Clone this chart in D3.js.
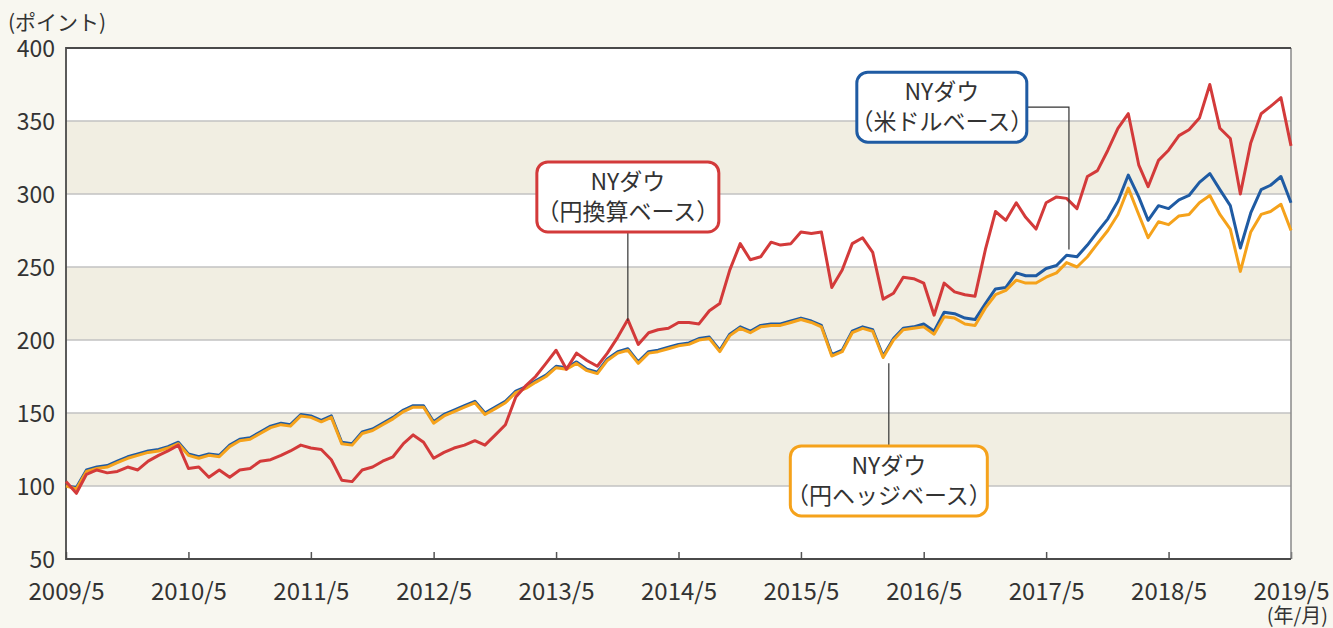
<!DOCTYPE html>
<html>
<head>
<meta charset="utf-8">
<script src="https://cdn.jsdelivr.net/npm/d3@7"></script>
<style>
  body { margin: 0; background: #f8f7f0; }
  svg { display: block; font-family: "Noto Sans CJK JP", "Noto Sans", sans-serif; }
</style>
</head>
<body>
<script>
// monthly points, 2009/5 .. 2019/5
const startMonth = new Date(2009, 4, 1);
const endMonth = new Date(2019, 4, 1);

const yTicks = [50, 100, 150, 200, 250, 300, 350, 400];
const bands = [[100, 150], [200, 250], [300, 350]];
const xTickYears = [2009, 2010, 2011, 2012, 2013, 2014, 2015, 2016, 2017, 2018, 2019];

// NYダウ（米ドルベース）
const usdValues = [
  100, 99, 111, 113, 114, 117, 120, 122, 124, 125, 127, 130,
  122, 120, 122, 121, 128, 132, 133, 137, 141, 143, 142, 149,
  148, 145, 148, 130, 129, 137, 139, 143, 147, 152, 155, 155,
  144, 149, 152, 155, 158, 150, 154, 158, 165, 168, 172, 176,
  182, 181, 185, 180, 178, 187, 192, 194, 185, 192, 193, 195,
  197, 198, 201, 202, 193, 204, 209, 206, 210, 211, 211, 213,
  215, 213, 210, 190, 193, 206, 209, 207, 189, 201, 208, 209,
  211, 206, 219, 218, 215, 214, 225, 235, 236, 246, 244, 244,
  249, 251, 258, 257, 265, 274, 283, 295, 313, 298, 282, 292,
  290, 296, 299, 308, 314, 303, 292, 263, 287, 303, 306, 312,
  294
];

// NYダウ（円換算ベース）
const jpyValues = [
  103, 95, 108, 111, 109, 110, 113, 111, 117, 121, 124, 128,
  112, 113, 106, 111, 106, 111, 112, 117, 118, 121, 124, 128,
  126, 125, 118, 104, 103, 111, 113, 117, 120, 129, 135, 130,
  119, 123, 126, 128, 131, 128, 135, 142, 161, 169, 175, 184,
  193, 180, 191, 186, 182, 191, 202, 214, 197, 205, 207, 208,
  212, 212, 211, 220, 225, 248, 266, 255, 257, 267, 265, 266,
  274, 273, 274, 236, 248, 266, 270, 260, 228, 232, 243, 242,
  239, 217, 239, 233, 231, 230, 262, 288, 282, 294, 284, 276,
  294, 298, 297, 290, 312, 316, 330, 345, 355, 320, 305, 323,
  330, 340, 344, 352, 375, 345, 338, 300, 335, 355, 360, 366,
  333
];

// NYダウ（円ヘッジベース）
const hedgeValues = [
  100, 98, 110, 112, 113, 116, 119, 121, 123, 124, 126, 129,
  121, 119, 121, 120, 127, 131, 132, 136, 140, 142, 141, 148,
  147, 144, 147, 129, 128, 136, 138, 142, 146, 151, 154, 154,
  143, 148, 151, 154, 157, 149, 153, 157, 164, 167, 171, 175,
  181, 180, 184, 179, 177, 186, 191, 193, 184, 191, 192, 194,
  196, 197, 200, 201, 192, 203, 208, 205, 209, 210, 210, 212,
  214, 212, 209, 189, 192, 205, 208, 206, 188, 200, 207, 208,
  209, 204, 216, 215, 211, 210, 222, 231, 234, 241, 239, 239,
  243, 246, 253, 250, 257, 266, 275, 286, 304, 286, 270, 281,
  279, 285, 286, 294, 299, 286, 276, 247, 274, 286, 288, 293,
  275
];

const series = [
  { name: "usd", values: usdValues, color: "#1f5ba3" },
  { name: "hedge", values: hedgeValues, color: "#f5a21b" },
  { name: "jpy", values: jpyValues, color: "#d33a3a" }
];

// label boxes: center in data coords, anchor = point the leader line hits
const notes = [
  { lines: ["NYダウ", "（円換算ベース）"], color: "#d33a3a", w: 182, h: 70,
    center: ["2013-12-01", 298], anchor: ["2013-12-01", 213], kind: "down" },
  { lines: ["NYダウ", "（米ドルベース）"], color: "#1f5ba3", w: 170, h: 70,
    center: ["2016-06-24", 359.5], anchor: ["2017-07-08", 262], kind: "elbow" },
  { lines: ["NYダウ", "（円ヘッジベース）"], color: "#f5a21b", w: 197, h: 70,
    center: ["2016-01-18", 103.5], anchor: ["2016-01-18", 184], kind: "up" }
];

const W = 1333, H = 628;
const margin = { top: 48, right: 42, bottom: 69, left: 66 };

const months = d3.timeMonth.range(startMonth, d3.timeMonth.offset(endMonth, 1));

const svg = d3.select("body").append("svg")
  .attr("width", W)
  .attr("height", H);

const x = d3.scaleTime()
  .domain([startMonth, endMonth])
  .range([margin.left, W - margin.right]);

const y = d3.scaleLinear()
  .domain([50, 400])
  .range([H - margin.bottom, margin.top]);

// plot background + bands
svg.append("rect")
  .attr("x", x.range()[0]).attr("y", y(400))
  .attr("width", x.range()[1] - x.range()[0])
  .attr("height", y(50) - y(400))
  .attr("fill", "#ffffff");

svg.selectAll(".band").data(bands).enter().append("rect")
  .attr("class", "band")
  .attr("x", x.range()[0])
  .attr("width", x.range()[1] - x.range()[0])
  .attr("y", d => y(d[1]))
  .attr("height", d => y(d[0]) - y(d[1]))
  .attr("fill", "#f1eee2");

// grid lines
svg.selectAll(".grid").data(yTicks.filter(d => d > 50 && d < 400)).enter().append("line")
  .attr("x1", x.range()[0]).attr("x2", x.range()[1])
  .attr("y1", d => y(d)).attr("y2", d => y(d))
  .attr("stroke", "#c2c2c2")
  .attr("stroke-width", 1.5);

// y axis labels
const yAxis = svg.append("g")
  .attr("transform", `translate(${x.range()[0]},0)`)
  .call(d3.axisLeft(y).tickValues(yTicks).tickSize(0).tickPadding(11));
yAxis.select(".domain").remove();
yAxis.selectAll("text")
  .attr("font-size", 23)
  .attr("fill", "#333")
  .attr("dy", "0.36em")
  .style("font-family", "'Noto Sans CJK JP', sans-serif");

// x axis
const xAxis = svg.append("g")
  .attr("transform", `translate(0,${y(50)})`)
  .call(d3.axisBottom(x)
    .tickValues(xTickYears.map(yr => new Date(yr, 4, 1)))
    .tickSize(-7)
    .tickPadding(24)
    .tickFormat(d => d.getFullYear() + "/5"));
xAxis.select(".domain").remove();
xAxis.selectAll("line").attr("stroke", "#555").attr("stroke-width", 1.5);
xAxis.selectAll("text")
  .attr("font-size", 24)
  .attr("fill", "#333")
  .style("font-family", "'Noto Sans CJK JP', sans-serif");

// frame
const fx0 = x.range()[0], fx1 = x.range()[1], fy0 = y(400), fy1 = y(50);
svg.append("line").attr("x1", fx1).attr("x2", fx1).attr("y1", fy0).attr("y2", fy1)
  .attr("stroke", "#8a8a8a").attr("stroke-width", 1.5);
svg.append("path")
  .attr("d", `M${fx1},${fy0}H${fx0}V${fy1}H${fx1}`)
  .attr("fill", "none")
  .attr("stroke", "#4a4a4a")
  .attr("stroke-width", 1.8);

// lines
const line = d3.line()
  .x((d, i) => x(months[i]))
  .y(d => y(d));

svg.selectAll(".series").data(series).enter().append("path")
  .attr("class", "series")
  .attr("d", d => line(d.values))
  .attr("fill", "none")
  .attr("stroke", d => d.color)
  .attr("stroke-width", 3)
  .attr("stroke-linejoin", "round");

// annotation boxes
const parse = d3.timeParse("%Y-%m-%d");
notes.forEach(n => {
  const cx = x(parse(n.center[0])), cy = y(n.center[1]);
  const ax = x(parse(n.anchor[0])), ay = y(n.anchor[1]);
  const left = cx - n.w / 2, top = cy - n.h / 2;

  let d;
  if (n.kind === "down") d = `M${ax},${top + n.h}V${ay}`;
  else if (n.kind === "up") d = `M${ax},${top}V${ay}`;
  else d = `M${left + n.w},${cy}H${ax}V${ay}`;
  svg.append("path").attr("d", d)
    .attr("fill", "none").attr("stroke", "#333").attr("stroke-width", 1.2);

  svg.append("rect")
    .attr("x", left).attr("y", top)
    .attr("width", n.w).attr("height", n.h)
    .attr("rx", 11).attr("ry", 11)
    .attr("fill", "#fff")
    .attr("stroke", n.color)
    .attr("stroke-width", 3);

  const t = svg.append("text")
    .attr("x", cx)
    .attr("text-anchor", "middle")
    .attr("font-size", 23)
    .attr("fill", "#333");
  t.append("tspan").attr("x", cx).attr("y", cy - 7).text(n.lines[0]);
  t.append("tspan").attr("x", cx).attr("y", cy + 23).text(n.lines[1]);
});

// unit labels
svg.append("text")
  .attr("x", 8).attr("y", 22)
  .attr("dy", "0.36em")
  .attr("font-size", 21)
  .attr("fill", "#333")
  .text("(ポイント)");

svg.append("text")
  .attr("x", 1328).attr("y", 616)
  .attr("dy", "0.36em")
  .attr("text-anchor", "end")
  .attr("font-size", 20)
  .attr("fill", "#333")
  .text("(年/月)");
</script>
</body>
</html>
